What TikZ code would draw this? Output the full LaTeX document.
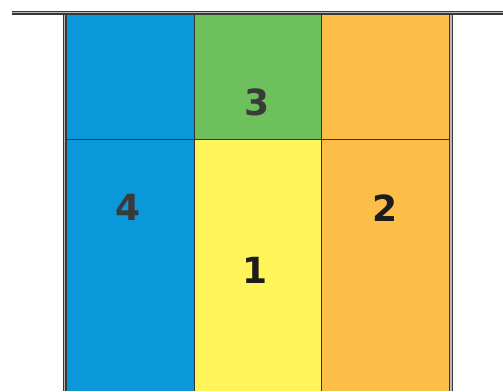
\documentclass[tikz,border=0pt]{standalone}
\usepackage{fontspec}
\setmainfont{DejaVu Sans}
\definecolor{PBlue}{HTML}{0A98DA}
\definecolor{PGreen}{HTML}{6DC05B}
\definecolor{PYellow}{HTML}{FFF45A}
\definecolor{POrange}{HTML}{FDBE48}
\definecolor{PRule}{HTML}{333333}
\definecolor{PFence}{HTML}{383838}
\definecolor{PFenceSoft}{HTML}{B8B8B8}
\definecolor{PInk}{HTML}{1C1C1C}
\definecolor{PInkSoft}{HTML}{3A3A3A}
\usetikzlibrary{positioning}

\begin{document}
\begin{tikzpicture}[x=1pt,y=-1pt,
    fence/.style={draw=PFence,line width=1.2pt,double=PFenceSoft,double distance=1.6pt},
    plotline/.style={PRule,line width=0.9pt},
    plotnum/.style={inner sep=0pt,font=\fontsize{36}{36}\selectfont\bfseries}]
    \useasboundingbox (0,0) rectangle (503,391);
    % plots
    \fill[PBlue] (66,14) rectangle (194,391);
    \fill[PGreen] (194,14) rectangle (321,139);
    \fill[PYellow] (194,139) rectangle (321,391);
    \fill[POrange] (321,14) rectangle (449,391);
    % plot borders
    \draw[plotline] (66,139) -- (449,139);
    \draw[plotline] (194,14) -- (194,391);
    \draw[plotline] (321,14) -- (321,391);
    % fences
    \draw[fence] (64.5,13) -- (64.5,391);
    \draw[fence] (451,13) -- (451,391);
    \draw[fence] (12,12.5) -- (503,12.5);
    % plot numbers
    \node[plotnum,PInkSoft] (three) at (257,102) {3};
    \node[plotnum,PInkSoft] (four) at (128,207) {4};
    \node[plotnum,PInk] (two) at (385,208) {2};
    \node[plotnum,PInk] (one) at (255,270) {1};
\end{tikzpicture}
\end{document}
